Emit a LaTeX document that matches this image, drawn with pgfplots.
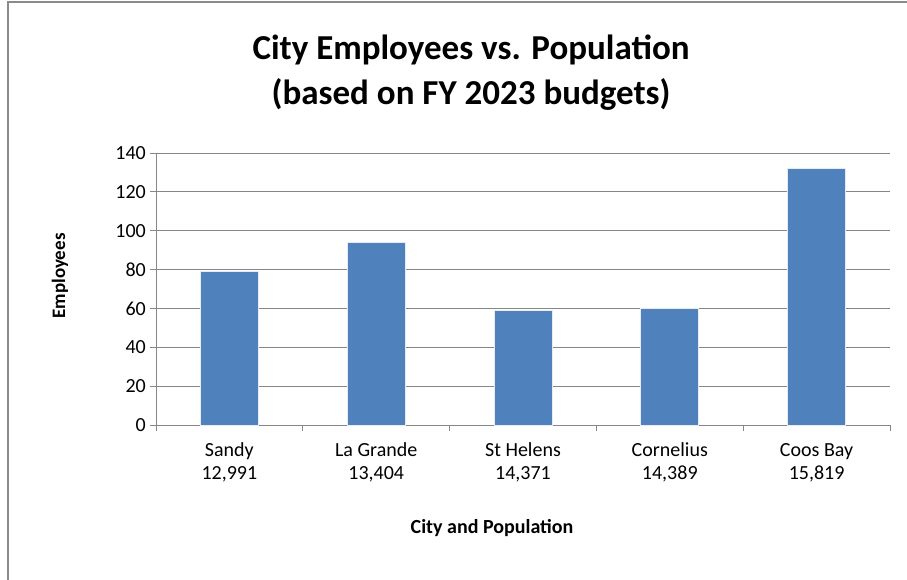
\documentclass[border=0pt]{standalone}
\usepackage{pgfplots}
\pgfplotsset{compat=1.18}
\usepackage{fontspec}
\setmainfont{Carlito}
\definecolor{barblue}{HTML}{4F81BD}
\definecolor{gridgray}{HTML}{868686}
\definecolor{framegray}{HTML}{8A8A8A}
\begin{document}
\begin{tikzpicture}[x=1pt,y=1pt]
\begin{axis}[
  at={(0pt,0pt)}, anchor=south west,
  scale only axis,
  width=734pt, height=272pt,
  xmin=-0.5, xmax=4.5,
  ymin=0, ymax=140,
  ytick={0,20,...,140},
  xtick={0,1,2,3,4},
  xticklabels={{\strut Sandy\\12,991},{\strut La Grande\\13,404},{\strut St Helens\\14,371},{\strut Cornelius\\14,389},{\strut Coos Bay\\15,819}},
  minor xtick={-0.5,0.5,1.5,2.5,3.5,4.5},
  axis lines*=left,
  axis line style={gridgray, line width=1pt},
  ymajorgrids,
  grid style={gridgray, line width=1pt},
  tick align=outside,
  major tick length=6pt,
  minor tick length=6pt,
  xtick style={draw=none},
  minor x tick style={draw=gridgray, line width=1pt},
  ytick style={gridgray, line width=1pt},
  /pgf/number format/assume math mode=true,
  yticklabel style={font=\fontsize{20}{24}\selectfont, text=black, inner sep=0pt, xshift=-4pt},
  xticklabel style={font=\fontsize{20}{23}\selectfont, text=black, align=center, inner sep=0pt, yshift=-9pt},
  clip=false,
]
\addplot[ybar, bar width=0.395, fill=barblue, draw=white!85!barblue, line width=0.8pt]
  coordinates {(0,79) (1,94) (2,59) (3,60) (4,132)};
\end{axis}
% frame
\draw[framegray, line width=2pt] (-147.5,-160) -- (-147.5,423) -- (760,423);
% title
\node[anchor=base, font=\fontsize{35}{45}\selectfont\bfseries] at (315,365) {City Employees vs. Population};
\node[anchor=base, font=\fontsize{35}{45}\selectfont\bfseries] at (315,320) {(based on FY 2023 budgets)};
% axis titles
\node[font=\fontsize{20}{24}\selectfont\bfseries] at (336,-103) {City and Population};
\node[rotate=90, font=\fontsize{19}{24}\selectfont\bfseries] at (-96,149) {Employees};
\pgfresetboundingbox
\path[use as bounding box] (-156,-154) rectangle (751,425);
\end{tikzpicture}
\end{document}
